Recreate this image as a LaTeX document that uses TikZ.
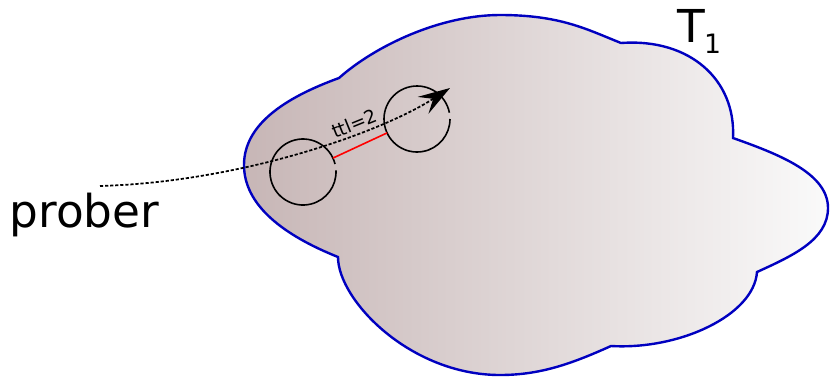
\documentclass[tikz,border=0pt]{standalone}
\usepackage{fontspec}
\setmainfont{DejaVu Sans}
\usetikzlibrary{arrows.meta}
\definecolor{cloudblue}{RGB}{0,0,192}
\definecolor{cloudleft}{RGB}{199,182,182}
\definecolor{cloudright}{RGB}{250,250,250}

\begin{document}
\begin{tikzpicture}[x=0.75pt,y=-0.75pt,
  hop/.style={circle,minimum size=49.5pt,inner sep=0pt,outer sep=0pt},
  ring/.style={line width=1.2pt},
  link/.style={red,line width=1.2pt},
  probe/.style={line width=1.3pt,dash pattern=on 2.4pt off 1.4pt,
    -{Stealth[length=24pt,width=15pt,inset=9pt]}},
  big/.style={font=\fontsize{34}{40}\selectfont}]
\useasboundingbox (0,0) rectangle (832,376);
%The cloud is drawn lobe by lobe, clockwise
% starting at the cusp on its upper left
\draw[cloudblue,line width=1.8pt,left color=cloudleft,right color=cloudright]
  (339,78) .. controls (375,46) and (440,15) .. (500,15)
  .. controls (560,15) and (586,29) .. (621,43)
  .. controls (690,38) and (736,80) .. (733,138)
  .. controls (778,154) and (828,173) .. (828,208)
  .. controls (828,240) and (792,256) .. (757,272)
  .. controls (754,315) and (680,350) .. (611,346)
  .. controls (571,364) and (540,375) .. (500,375)
  .. controls (410,375) and (338,300) .. (338,257)
  .. controls (283,235) and (244,205) .. (244,165)
  .. controls (244,125) and (284,98) .. (339,78) -- cycle;
\node[big,anchor=base west] (tone) at (673,42)
  {T\kern-1pt\raisebox{-8.25pt}{\fontsize{20}{20}\selectfont 1}};
% the two hops and the link between them
\node[hop] (h1) at (303,172) {};
\node[hop] (h2) at (417,119) {};
\draw[ring] (h1.14) arc[start angle=14,end angle=363,radius=24.75pt];
\draw[ring] (h2.11) arc[start angle=11,end angle=360,radius=24.75pt];
\draw[link] (h1) -- (h2);
% the probe
\node[big,anchor=base west] (prober) at (5,227) {prober};
\coordinate (start) at (100,186);
\coordinate (aim) at (450,88);
\draw[probe] (start) .. controls (240,182) and (380,133) .. (aim);
\node[font=\fontsize{14}{16}\selectfont,rotate=22,anchor=base] (ttl) at (357,130) {ttl=2};
\end{tikzpicture}
\end{document}
